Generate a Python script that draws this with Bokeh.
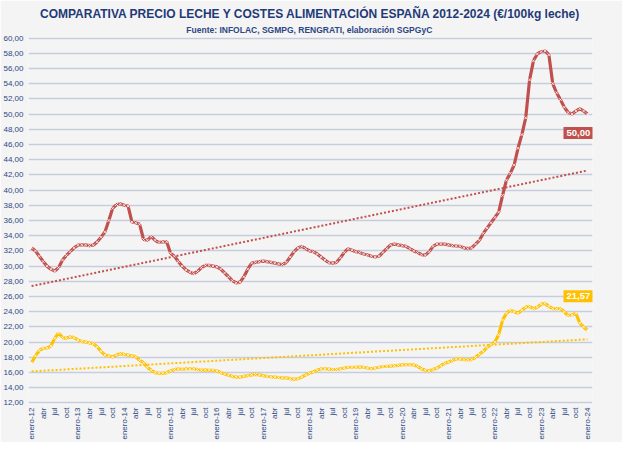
import numpy as np
from math import pi
from bokeh.plotting import figure
from bokeh.models import FixedTicker, Label, Title, Range1d, ColumnDataSource
from bokeh.embed import file_html
from bokeh.resources import INLINE

# ---------------- data (monthly, enero-2012 .. enero-2024) ----------------
years = list(range(12, 25))
quarter_names = ["abr", "jul", "oct"]

milk_price = [
    32.4, 32.0, 31.3, 30.6, 30.0, 29.6, 29.35, 29.8, 30.8, 31.4, 31.9, 32.4,   # 2012
    32.75, 32.8, 32.8, 32.7, 32.75, 33.2, 33.8, 34.5, 36.0, 37.6, 38.1, 38.2,  # 2013
    38.0, 37.9, 35.8, 35.7, 35.5, 33.5, 33.4, 33.9, 33.4, 33.1, 33.2, 33.2,    # 2014
    31.7, 31.3, 30.6, 30.0, 29.5, 29.2, 29.0, 29.3, 29.8, 30.1, 30.1, 30.0,    # 2015
    29.9, 29.6, 29.1, 28.6, 28.1, 27.8, 27.9, 28.6, 29.6, 30.4, 30.5, 30.6,    # 2016
    30.65, 30.6, 30.5, 30.4, 30.3, 30.2, 30.5, 31.2, 31.9, 32.4, 32.6, 32.3,   # 2017
    32.0, 31.9, 31.6, 31.2, 30.8, 30.45, 30.4, 30.5, 31.1, 31.8, 32.3, 32.1,   # 2018
    31.9, 31.8, 31.6, 31.5, 31.3, 31.2, 31.3, 31.8, 32.3, 32.8, 32.9, 32.8,    # 2019
    32.7, 32.6, 32.3, 32.0, 31.8, 31.5, 31.45, 31.9, 32.6, 32.9, 32.9, 32.9,   # 2020
    32.8, 32.7, 32.65, 32.6, 32.4, 32.3, 32.4, 32.9, 33.4, 34.3, 35.0, 35.7,   # 2021
    36.4, 37.1, 39.3, 41.3, 42.2, 43.3, 45.5, 47.3, 49.5, 54.5, 57.0, 57.9,    # 2022
    58.2, 58.3, 57.8, 54.0, 52.8, 51.9, 50.9, 50.2, 50.0, 50.4, 50.7, 50.4,    # 2023
    50.00,                                                                     # 2024
]

feed_cost = [
    17.3, 18.2, 18.9, 19.2, 19.2, 19.5, 20.5, 21.2, 20.6, 20.5, 20.7, 20.6,    # 2012
    20.3, 20.1, 20.0, 19.9, 19.8, 19.4, 18.8, 18.3, 18.2, 18.05, 18.3, 18.5,   # 2013
    18.4, 18.3, 18.2, 18.1, 17.6, 17.3, 16.7, 16.3, 16.0, 15.9, 15.9, 16.0,    # 2014
    16.2, 16.4, 16.5, 16.4, 16.5, 16.5, 16.5, 16.4, 16.3, 16.35, 16.3, 16.3,   # 2015
    16.2, 16.0, 15.8, 15.65, 15.5, 15.4, 15.4, 15.5, 15.6, 15.7, 15.75, 15.7,  # 2016
    15.6, 15.5, 15.45, 15.4, 15.35, 15.3, 15.3, 15.2, 15.1, 15.2, 15.4, 15.7,  # 2017
    15.9, 16.1, 16.3, 16.5, 16.5, 16.45, 16.4, 16.4, 16.5, 16.6, 16.7, 16.7,   # 2018
    16.7, 16.75, 16.7, 16.6, 16.5, 16.6, 16.7, 16.8, 16.8, 16.85, 16.9, 16.95, # 2019
    17.0, 17.05, 17.05, 17.0, 16.8, 16.5, 16.3, 16.2, 16.4, 16.6, 16.9, 17.2,  # 2020
    17.4, 17.6, 17.8, 17.8, 17.7, 17.7, 17.7, 18.0, 18.4, 18.8, 19.3, 19.7,    # 2021
    20.0, 21.0, 22.9, 23.8, 24.2, 24.0, 23.8, 24.2, 24.6, 24.7, 24.4, 24.6,    # 2022
    25.0, 25.1, 24.7, 24.4, 24.4, 24.4, 24.0, 23.5, 23.6, 23.8, 22.5, 22.0,    # 2023
    21.57,                                                                     # 2024
]

y_ticks = list(range(12, 61, 2))

tick_labels = []
for yy in years:
    tick_labels.append(f"enero-{yy}")
    if yy < years[-1]:
        tick_labels += quarter_names

# ---------------- figure ----------------
RED = "#c0504d"
YEL = "#ffc000"
NAVY = "#2c4784"
BG = "#f4f4f4"
FONT = "Liberation Sans"

n = len(milk_price)
idx = np.arange(n)
src = ColumnDataSource(dict(i=idx, milk=milk_price, feed=feed_cost))

p = figure(width=622, height=442, output_backend="svg", toolbar_location=None,
           x_range=Range1d(-0.8, 145.3), y_range=Range1d(11.8, 60.2),
           min_border_left=4, min_border_right=30, min_border_top=36, min_border_bottom=36)
p.background_fill_color = BG
p.border_fill_color = BG
p.outline_line_color = None

# titles (p.title is outermost, the added subtitle sits nearer the plot)
p.title.text = "COMPARATIVA PRECIO LECHE Y COSTES ALIMENTACIÓN ESPAÑA 2012-2024 (€/100kg leche)"
p.title.align = "center"
p.title.text_font = FONT
p.title.text_font_size = "12px"
p.title.text_color = "#1f3a78"
p.title.text_font_style = "bold"
p.title.standoff = 0
p.add_layout(Title(text="Fuente: INFOLAC, SGMPG, RENGRATI,  elaboración SGPGyC",
                   align="center", text_font=FONT, text_font_size="8.5px", text_color=NAVY,
                   text_font_style="bold", standoff=4), "above")

# grid / axes
p.xgrid.grid_line_color = None
p.ygrid.grid_line_color = "#c6cddd"
p.ygrid.grid_line_width = 1.5
p.yaxis.ticker = FixedTicker(ticks=y_ticks)
p.yaxis.major_label_overrides = {v: f"{v},00" for v in y_ticks}
p.xaxis.ticker = FixedTicker(ticks=list(range(0, n, 3)))
p.xaxis.major_label_overrides = {i * 3: t for i, t in enumerate(tick_labels)}
p.xaxis.major_label_orientation = pi / 2
for ax in (p.xaxis, p.yaxis):
    ax.axis_line_color = None
    ax.major_tick_line_color = None
    ax.minor_tick_line_color = None
    ax.major_tick_out = 0
    ax.major_tick_in = 0
    ax.minor_tick_out = 0
    ax.major_label_text_color = NAVY
    ax.major_label_text_font = FONT
p.yaxis.major_label_text_font_size = "8px"
p.yaxis.major_label_standoff = 5
p.xaxis.major_label_text_font_size = "8px"
p.xaxis.major_label_standoff = 3

# trend lines (linear fits)
for vals, col in ((milk_price, RED), (feed_cost, YEL)):
    k, b = np.polyfit(idx, vals, 1)
    p.line(x=[0, n - 1], y=[b, b + k * (n - 1)], line_color=col, line_width=2,
           line_dash="2 2")

# series
for field, col in (("milk", RED), ("feed", YEL)):
    p.line("i", field, source=src, line_color=col, line_width=3.2)
    p.scatter("i", field, source=src, marker="x", size=4, line_color="white",
              line_alpha=0.75, line_width=1)

# end-value labels
p.add_layout(Label(x=n - 1, y=milk_price[-1], text=f"{milk_price[-1]:.2f}".replace(".", ","),
                   x_offset=-24, y_offset=-13, text_baseline="top", text_align="left",
                   text_color="white", text_font=FONT, text_font_size="9.5px", text_font_style="bold",
                   background_fill_color=RED, padding=3))
p.add_layout(Label(x=n - 1, y=feed_cost[-1], text=f"{feed_cost[-1]:.2f}".replace(".", ","),
                   x_offset=-24, y_offset=28, text_baseline="bottom", text_align="left",
                   text_color="white", text_font=FONT, text_font_size="9.5px", text_font_style="bold",
                   background_fill_color=YEL, padding=3))

open("out.html", "w").write(file_html(p, INLINE))
